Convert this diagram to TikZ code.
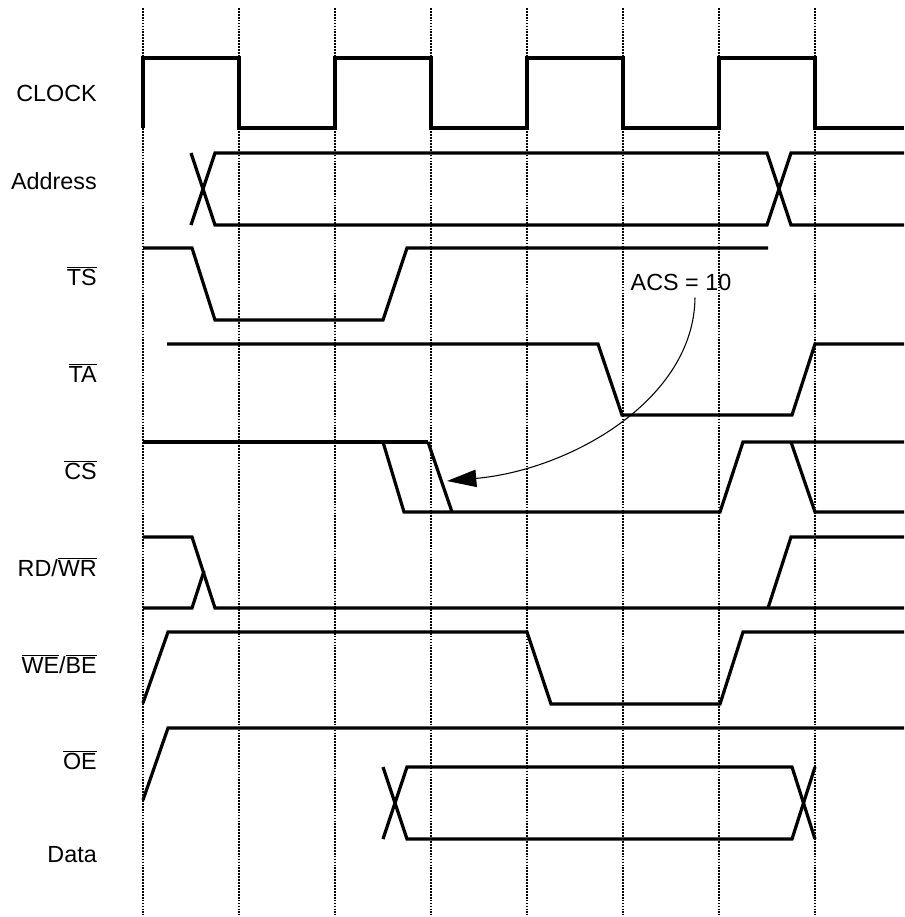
\documentclass[tikz,border=0pt]{standalone}
\usepackage{fontspec}
\setmainfont{Liberation Sans}
\usetikzlibrary{arrows.meta}
\newcommand\ovl[1]{\ensuremath{\overline{\mbox{#1}}}}
\begin{document}
\begin{tikzpicture}[x=0.75pt,y=-0.75pt,
  sig/.style={line width=2.4pt,line join=miter},
  grid/.style={line width=2.2pt,dash pattern=on 1.3pt off 0.9pt,black},
  lbl/.style={anchor=east,inner sep=0pt,font=\fontsize{17.5}{20}\selectfont},
  note/.style={inner sep=0pt,font=\fontsize{17.5}{20}\selectfont},
  pointer/.style={line width=0.8pt,-{Triangle[length=22pt,width=13pt]}}]
\useasboundingbox (0,0) rectangle (904,917);
% vertical reference lines
\foreach \x in {143,239,335,431,527,623,719,815}
  \draw[grid] (\x,8) -- (\x,915);
% labels
\node[lbl] (lclk) at (97,93) {CLOCK};
\node[lbl] (ladr) at (97,181) {Address};
\node[lbl] (lts) at (97,276) {\ovl{TS}};
\node[lbl] (lta) at (97,373) {\ovl{TA}};
\node[lbl] (lcs) at (97,470) {\ovl{CS}};
\node[lbl] (lrw) at (97,567) {RD/\ovl{WR}};
\node[lbl] (lwe) at (97,664) {\ovl{WE}/\ovl{BE}};
\node[lbl] (loe) at (97,760) {\ovl{OE}};
\node[lbl] (ldat) at (97,855) {Data};
% CLOCK
\draw[sig] (143,128) -- (143,58) -- (239,58) -- (239,128) -- (335,128) -- (335,58)
  -- (431,58) -- (431,128) -- (527,128) -- (527,58) -- (623,58) -- (623,128)
  -- (719,128) -- (719,58) -- (815,58) -- (815,128) -- (904,128);
% Address
\draw[sig] (191,153) -- (215,225) -- (767,225) -- (791,153) -- (904,153);
\draw[sig] (191,225) -- (215,153) -- (767,153) -- (791,225) -- (904,225);
% TS
\draw[sig] (143,248) -- (192,248) -- (215,320) -- (383,320) -- (407,248) -- (768,248);
% TA
\draw[sig] (167,344) -- (598,344) -- (622,415) -- (792,415) -- (815,344) -- (904,344);
% CS
\draw[sig] (143,442) -- (428,442);
\draw[sig] (383,442) -- (404,512) -- (720,512) -- (743,442) -- (904,442);
\draw[sig] (428,442) -- (452,512);
\draw[sig] (791,442) -- (815,512) -- (904,512);
% RD/WR
\draw[sig] (143,537) -- (192,537) -- (215,608) -- (904,608);
\draw[sig] (143,608) -- (192,608) -- (204,571);
\draw[sig] (768,608) -- (791,537) -- (904,537);
% WE/BE
\draw[sig] (143,703) -- (168,632) -- (527,632) -- (551,704) -- (720,704) -- (743,632) -- (904,632);
% OE
\draw[sig] (143,800) -- (168,728) -- (904,728);
% Data
\draw[sig] (383,767) -- (407,839) -- (792,839) -- (815,767);
\draw[sig] (383,839) -- (407,767) -- (792,767) -- (815,839);
% annotation
\node[note] (acs) at (681,282) {ACS = 10};
\coordinate (acstip) at (447,481);
\draw[pointer] (acs.south) ++(14,7) .. controls (694,400) and (570,470) .. (acstip);
\end{tikzpicture}
\end{document}
